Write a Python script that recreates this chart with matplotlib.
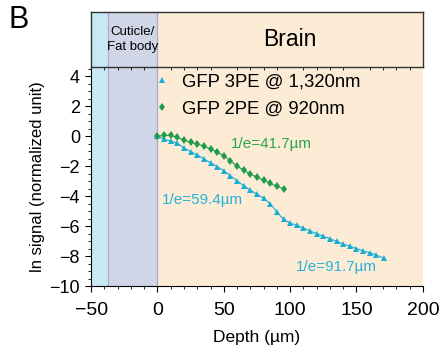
import matplotlib
matplotlib.use("Agg")
import matplotlib.pyplot as plt
from matplotlib.ticker import MultipleLocator

plt.rcParams['font.family'] = ['Liberation Sans', 'DejaVu Sans']

# data
depth_3pe = [0, 5, 10, 15, 20, 25, 30, 35, 40, 45, 50, 55, 60, 65, 70, 75, 80, 85,
             90, 95, 100, 105, 110, 115, 120, 125, 130, 135, 140, 145, 150, 155,
             160, 165, 171]
sig_3pe = [0.0, -0.2, -0.32, -0.48, -0.78, -1.02, -1.25, -1.5, -1.77, -2.02, -2.31,
           -2.64, -2.97, -3.3, -3.6, -3.87, -4.15, -4.5, -5.05, -5.55, -5.8, -5.95,
           -6.12, -6.33, -6.5, -6.68, -6.84, -7.02, -7.2, -7.33, -7.5, -7.64, -7.78,
           -7.93, -8.15]
depth_2pe = [0, 5, 10, 15, 20, 25, 30, 35, 40, 45, 50, 55, 60, 65, 70, 75, 80, 85,
             90, 95]
sig_2pe = [0.0, 0.05, 0.05, -0.08, -0.25, -0.4, -0.52, -0.66, -0.85, -1.05, -1.3,
           -1.65, -1.98, -2.28, -2.52, -2.75, -2.92, -3.15, -3.35, -3.5]

regions = [(-50, -37, '#c8e8f6'), (-37, 0, '#d0d5e8'), (0, 200, '#fcebd5')]
cyan = '#17aed6'
green = '#1f9b4a'

fig = plt.figure(figsize=(4.4, 3.58), dpi=100)
ax = fig.add_axes([0.207, 0.201, 0.754, 0.613])
hdr = fig.add_axes([0.207, 0.814, 0.754, 0.153], sharex=ax)

for a in (ax, hdr):
    for x0, x1, c in regions:
        a.axvspan(x0, x1, color=c, lw=0, zorder=0)
    for xv in (-37, 0):
        a.axvline(xv, color='#a9adc0', lw=0.9, zorder=1)

ax.plot(depth_3pe, sig_3pe, color=cyan, lw=0.8, marker='^', ms=5, mew=0,
        label='GFP 3PE @ 1,320nm', zorder=3)
ax.plot(depth_2pe, sig_2pe, color=green, lw=0.8, marker='d', ms=4.5, mew=0,
        label='GFP 2PE @ 920nm', zorder=4)

leg = ax.legend(loc='upper left', bbox_to_anchor=(0.165, 1.02), frameon=False,
                handlelength=0.6, handletextpad=0.75, labelspacing=0.55,
                fontsize=13.3, borderaxespad=0.2)
for h in leg.legend_handles:
    h.set_linestyle('none')

ax.text(55, -0.55, '1/e=41.7µm', color='#2aa64c', fontsize=11, va='center')
ax.text(3.5, -4.25, '1/e=59.4µm', color='#27b3d8', fontsize=11, va='center')
ax.text(104, -8.7, '1/e=91.7µm', color='#27b3d8', fontsize=11, va='center')

ax.set_xlim(-50, 200)
ax.set_ylim(-10, 4.65)
ax.xaxis.set_major_locator(MultipleLocator(50))
ax.xaxis.set_minor_locator(MultipleLocator(10))
ax.yaxis.set_major_locator(MultipleLocator(2))
ax.yaxis.set_minor_locator(MultipleLocator(0.5))
ax.spines['top'].set_visible(False)
ax.spines['right'].set_visible(False)
ax.tick_params(which='major', length=4.5, width=0.8, labelsize=13)
ax.tick_params(axis='x', which='major', pad=7, labelsize=14)
ax.tick_params(which='minor', length=2.5, width=0.6)
ax.set_xlabel('Depth (µm)', fontsize=12.5, labelpad=8)
ax.set_ylabel('ln signal (normalized unit)', fontsize=12, labelpad=3)

hdr.set_ylim(0, 1)
hdr.tick_params(left=False, bottom=False, labelleft=False, labelbottom=False)
for s in hdr.spines.values():
    s.set_linewidth(1.0)
    s.set_color('#333333')
hdr.text(-18.5, 0.5, 'Cuticle/\nFat body', ha='center', va='center', fontsize=9.5,
         linespacing=1.35)
hdr.text(100, 0.5, 'Brain', ha='center', va='center', fontsize=16.5)

fig.text(0.02, 0.985, 'B', fontsize=22, va='top', ha='left')

fig.savefig('out.png', dpi=100)
